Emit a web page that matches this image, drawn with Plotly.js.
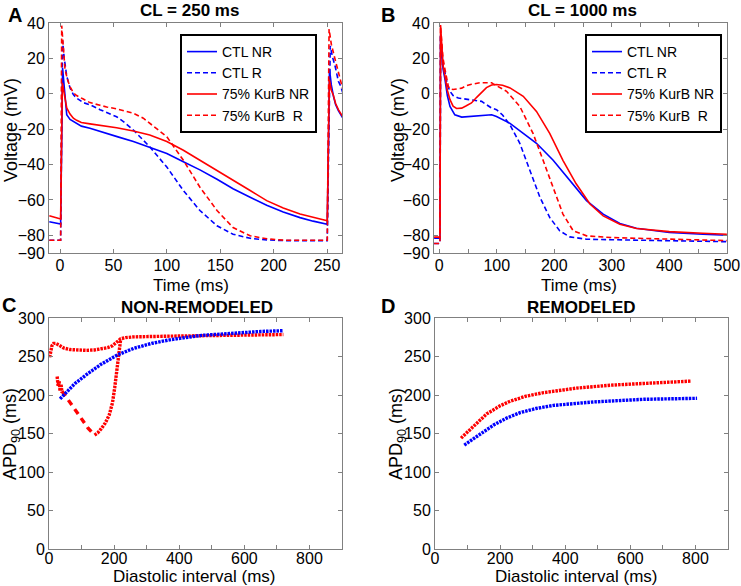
<!DOCTYPE html>
<html>
<head>
<meta charset="utf-8">
<script src="https://cdn.plot.ly/plotly-3.0.1.min.js"></script>
<style>
  html, body { margin: 0; padding: 0; background: #ffffff; }
  #chart { width: 741px; height: 586px; }
</style>
</head>
<body>
<div id="chart"></div>
<script>
// Panel A: CL = 250 ms action potentials
const aTimeCtlNR = [-10, 0, 0.6, 2.4, 4, 6.3, 9.4, 12.5, 15.6, 20, 28, 37.5, 43.7, 55, 68.7, 84, 100, 115, 131, 147, 162, 178, 193.5, 209, 224.7, 237, 249.5, 250.2, 252.3, 254, 256, 258, 260.6, 264.5];
const aVoltCtlNR = [-72.3, -73.6, -73.6, 14.7, 2, -11.9, -14.5, -15.7, -16.9, -18.3, -19.5, -21.4, -22.3, -24.5, -27, -30.3, -33.8, -38.3, -43, -48.3, -53.7, -58.5, -63, -66.8, -70, -72, -73.7, -73.7, 13.8, 5, -1.4, -6, -9.5, -13.5];

const aTimeCtlR = [-10, 0, 0.6, 2.4, 4, 6.3, 9.4, 12.5, 15.6, 21.8, 28, 37.5, 43.7, 53, 60, 68.7, 84, 100, 115.5, 131, 147, 162, 178, 193.5, 210, 249.5, 250.2, 253, 255, 257.5, 260.6, 262.8, 265];
const aVoltCtlR = [-82.8, -82.8, -82.8, 30, 20, 10, 3.3, -0.5, -2.5, -5, -6.2, -9, -10.5, -13, -16, -20.5, -30, -41.4, -54.7, -66, -74.6, -79.4, -81.7, -82.6, -83, -83, -83, 27, 21, 15.7, 7.1, 4.3, 0];

const aTimeKurNR = [-10, 0, 0.6, 2.2, 4, 6.3, 9.4, 12.5, 15.6, 20, 28, 37.5, 43.7, 53, 68.7, 84, 100, 115.5, 131, 147, 162, 178, 193.5, 209, 224.7, 237, 249.5, 250.2, 252.2, 254, 256, 258, 260.6, 264.5];
const aVoltKurNR = [-68.9, -70.8, -70.8, 6.2, 0, -8, -11.5, -13.8, -15, -16.2, -17, -17.8, -18.5, -19.2, -21, -23.3, -27, -31.9, -37.6, -43.3, -49, -54.7, -60.4, -64.6, -68, -70, -71.8, -71.8, 8, 2, -1, -5.5, -9, -12.8];

const aTimeKurR = [-10, 0, 0.6, 1.6, 3, 4.7, 7, 9.4, 12.5, 15.6, 21.8, 28, 37.5, 43.7, 53, 68.7, 78, 90.5, 100, 115.5, 131, 147, 162, 178, 193.5, 210, 249.5, 250.2, 251.9, 254, 257.5, 260.6, 262.8, 265];
const aVoltKurR = [-82.8, -82.8, -82.8, 38.5, 25, 13.8, 8, 4, 0.5, -1, -3, -5, -6.5, -7.5, -8.5, -11, -13.8, -19.5, -24.3, -37.6, -52.8, -66, -75.6, -80.3, -81.9, -82.8, -82.8, -82.8, 36.6, 28, 19.5, 11.9, 6.2, 2];

// Panel B: CL = 1000 ms action potentials
const bTimeCtlNR = [-9, 0.8, 1.2, 2.2, 4, 6.5, 9.9, 14, 18.6, 27, 39, 56, 76, 91, 99.5, 123, 146, 169, 198, 227, 256, 285, 314, 342.6, 400, 458, 500];
const bVoltCtlNR = [-81.6, -81.6, -81.6, 33, 22, 14, 8.1, -1, -7.1, -11.9, -13.2, -12.8, -12, -11.9, -12.8, -16.7, -22.4, -28, -37.6, -49, -60.4, -68, -73.3, -76, -78.4, -79.4, -80];

const bTimeCtlR = [-9, 0.8, 1.2, 2.2, 4, 6.5, 10, 14, 18.6, 24, 33, 50, 73.6, 91, 99.5, 110, 123, 140, 157, 175, 192, 209.5, 227, 256, 300, 400, 500];
const bVoltCtlR = [-84.6, -84.6, -84.6, 33, 24, 16, 11.9, 5, 1.4, -1, -2.4, -3.3, -4.3, -8.1, -9, -12, -17.6, -28, -43.3, -58.5, -69.9, -77.5, -80.9, -82.2, -82.5, -83, -83.6];

const bTimeKurNR = [-9, 0.8, 1.2, 2.2, 4, 6.5, 9.9, 14, 18.6, 24, 30, 39, 47, 56, 65, 73.6, 82, 91, 99.5, 110, 123, 146, 169, 192, 215, 238, 262, 285, 314, 343, 400, 458, 500];
const bVoltKurNR = [-81, -81, -81, 38.9, 26, 16, 10, 2, -3.3, -7, -8.3, -8.1, -6.8, -5.2, -2, 0.5, 3.5, 5, 5.2, 4.8, 3.3, -1.4, -10, -22.4, -37.6, -50.9, -62.3, -69, -73.7, -76.2, -77.9, -78.8, -79.4];

const bTimeKurR = [-9, 0.8, 1.2, 2.2, 4, 6.5, 9.9, 15.6, 18.5, 24, 30, 39, 47, 56, 70.6, 91, 94, 117, 140, 163, 180.5, 198, 215, 233, 256, 300, 400, 500];
const bVoltKurR = [-84.6, -84.6, -84.6, 38, 28, 20, 13.8, 4.3, 2.8, 2.4, 2.7, 3.2, 4.6, 5.4, 6.2, 6.2, 5.6, 1.4, -7.1, -22.4, -37.6, -52.8, -68, -77.5, -80.3, -81.3, -82.2, -83];

// Panel C: restitution, non-remodeled
const cDiCtl = [34, 50, 80, 120, 160, 210, 260, 315, 375, 470, 575, 650, 720];
const cApdCtl = [195, 202, 215, 228, 240, 252, 260.5, 267, 272, 277.5, 281, 282.5, 283.5];

const cDiKurUpper = [2, 5, 9, 14, 20, 30, 45, 65, 90, 115, 140, 160, 180, 195, 205, 212, 220, 235, 260, 300, 380, 470, 570, 650, 720];
const cApdKurUpper = [249, 258, 264, 267, 267, 265, 261, 259, 258, 258, 258.5, 259.5, 261.5, 264, 267, 270, 273, 274.5, 275.5, 276, 276.5, 277, 277.5, 278, 278.5];

const cDiKurAlt = [25, 28, 31, 34, 37, 40];
const cApdKurAlt = [224, 212, 218, 205, 214, 203];

const cDiKurDown = [40, 60, 80, 100, 120, 140];
const cApdKurDown = [205, 193, 181, 170, 157, 148];

const cDiKurUp = [140, 150, 160, 172, 185, 195, 202, 208, 213, 217, 220];
const cApdKurUp = [148, 151, 156, 163, 174, 190, 210, 230, 248, 263, 272];

// Panel D: restitution, remodeled
const dDiCtl = [90, 128, 180, 220, 261, 310, 364, 487, 641, 805];
const dApdCtl = [135, 146, 161, 170, 177, 182.5, 186.5, 191, 194.4, 195.7];

const dDiKur = [80, 118, 159, 200, 231, 280, 333, 436, 538, 641, 785];
const dApdKur = [144, 159, 175.5, 186, 192, 198.5, 203, 209, 212.7, 215, 218];

const colors = {
  ctl: '#0000ff',
  kur: '#ff0000',
  axis: '#808080'
};

const FONT = 'Liberation Sans, Arial, Helvetica, sans-serif';
const W = 741, H = 586;

function px(x) { return x / W; }
function py(y) { return 1 - y / H; }

function apTrace(x, y, name, color, dash, xa, ya, legend) {
  return {
    x: x, y: y, name: name, type: 'scatter', mode: 'lines',
    line: { color: color, width: 1.6, dash: dash },
    xaxis: xa, yaxis: ya, legend: legend, showlegend: true
  };
}

function dotTrace(x, y, color, xa, ya, dash) {
  return {
    x: x, y: y, type: 'scatter', mode: 'lines',
    line: { color: color, width: 3.4, dash: dash || '2.5px,1px' },
    xaxis: xa, yaxis: ya, showlegend: false, hoverinfo: 'x+y'
  };
}

const traces = [
  apTrace(aTimeCtlNR, aVoltCtlNR, 'CTL NR', colors.ctl, 'solid', 'x', 'y', 'legend'),
  apTrace(aTimeCtlR, aVoltCtlR, 'CTL R', colors.ctl, '5px,3px', 'x', 'y', 'legend'),
  apTrace(aTimeKurNR, aVoltKurNR, '75% KurB NR', colors.kur, 'solid', 'x', 'y', 'legend'),
  apTrace(aTimeKurR, aVoltKurR, '75% KurB\u00a0 R', colors.kur, '5px,3px', 'x', 'y', 'legend'),

  apTrace(bTimeCtlNR, bVoltCtlNR, 'CTL NR', colors.ctl, 'solid', 'x2', 'y2', 'legend2'),
  apTrace(bTimeCtlR, bVoltCtlR, 'CTL R', colors.ctl, '5px,3px', 'x2', 'y2', 'legend2'),
  apTrace(bTimeKurNR, bVoltKurNR, '75% KurB NR', colors.kur, 'solid', 'x2', 'y2', 'legend2'),
  apTrace(bTimeKurR, bVoltKurR, '75% KurB\u00a0 R', colors.kur, '5px,3px', 'x2', 'y2', 'legend2'),

  dotTrace(cDiKurUpper, cApdKurUpper, colors.kur, 'x3', 'y3'),
  dotTrace(cDiKurAlt, cApdKurAlt, colors.kur, 'x3', 'y3'),
  dotTrace(cDiKurDown, cApdKurDown, colors.kur, 'x3', 'y3', '6px,5px'),
  dotTrace(cDiKurUp, cApdKurUp, colors.kur, 'x3', 'y3'),
  dotTrace(cDiCtl, cApdCtl, colors.ctl, 'x3', 'y3'),

  dotTrace(dDiKur, dApdKur, colors.kur, 'x4', 'y4'),
  dotTrace(dDiCtl, dApdCtl, colors.ctl, 'x4', 'y4')
];

const baseAxis = {
  showline: true, mirror: 'ticks', linecolor: colors.axis, linewidth: 1,
  ticks: 'inside', ticklen: 4, tickcolor: colors.axis, tickwidth: 1,
  showgrid: false, zeroline: false, ticklabeloverflow: 'allow',
  tickfont: { family: FONT, size: 16, color: '#000000' }
};

const voltTicks = [40, 20, 0, -20, -40, -60, -80, -90];
const minorDI = { dtick: 100, ticks: 'inside', ticklen: 4, tickcolor: colors.axis };

const layout = {
  width: W, height: H,
  margin: { l: 0, r: 0, t: 0, b: 0 },
  paper_bgcolor: '#ffffff', plot_bgcolor: '#ffffff',
  font: { family: FONT, color: '#000000' },

  xaxis: { ...baseAxis, domain: [px(49), px(342)], range: [-10.3, 264], tickvals: [0, 50, 100, 150, 200, 250],
    ticklabelstandoff: -2, anchor: 'y' },
  yaxis: { ...baseAxis, domain: [py(253), py(23)], range: [-90, 40], tickvals: voltTicks, anchor: 'x' },

  xaxis2: { ...baseAxis, domain: [px(434), px(727)], range: [-9.2, 500.3], tickvals: [0, 100, 200, 300, 400, 500],
    minor: { tickvals: [50, 150, 250, 350, 450], ticks: 'inside', ticklen: 4, tickcolor: colors.axis },
    ticklabelstandoff: -2, anchor: 'y2' },
  yaxis2: { ...baseAxis, domain: [py(253), py(23)], range: [-90, 40], tickvals: voltTicks, anchor: 'x2' },

  xaxis3: { ...baseAxis, domain: [px(49), px(342)], range: [0, 900], dtick: 200, tick0: 0,
    minor: minorDI, ticklabelstandoff: -5, anchor: 'y3' },
  yaxis3: { ...baseAxis, domain: [py(549), py(318)], range: [0, 300], dtick: 50, anchor: 'x3' },

  xaxis4: { ...baseAxis, domain: [px(435), px(728)], range: [0, 900], dtick: 200, tick0: 0,
    minor: minorDI, ticklabelstandoff: -5, anchor: 'y4' },
  yaxis4: { ...baseAxis, domain: [py(549), py(318)], range: [0, 300], dtick: 50, anchor: 'x4' },

  legend: {
    x: px(180), y: py(34), xanchor: 'left', yanchor: 'top',
    bgcolor: '#ffffff', bordercolor: '#000000', borderwidth: 2,
    font: { family: FONT, size: 14, color: '#000000' }, itemwidth: 30, tracegroupgap: 0
  },
  legend2: {
    x: px(585), y: py(34), xanchor: 'left', yanchor: 'top',
    bgcolor: '#ffffff', bordercolor: '#000000', borderwidth: 2,
    font: { family: FONT, size: 14, color: '#000000' }, itemwidth: 30, tracegroupgap: 0
  },

  annotations: []
};

function label(text, x, y, size, bold, angle) {
  layout.annotations.push({
    text: bold ? '<b>' + text + '</b>' : text,
    xref: 'paper', yref: 'paper', x: px(x), y: py(y),
    xanchor: 'center', yanchor: 'middle', showarrow: false,
    textangle: angle || 0,
    font: { family: FONT, size: size, color: '#000000' }
  });
}

// panel titles and letters
label('CL = 250 ms', 190, 10, 17, true);
label('CL = 1000 ms', 582, 10, 17, true);
label('NON-REMODELED', 197, 307, 17, true);
label('REMODELED', 581, 307, 17, true);
label('A', 15, 15, 20, true);
label('B', 388, 15, 20, true);
label('C', 9, 305, 20, true);
label('D', 388, 306, 20, true);

// axis titles
label('Voltage (mV)', 11, 130, 18, false, -90);
label('Voltage (mV)', 398, 130, 18, false, -90);
label('Time (ms)', 191, 285, 17, false);
label('Time (ms)', 579, 285, 17, false);
label('APD<sub>90</sub> (ms)', 11, 434, 18, false, -90);
label('APD<sub>90</sub> (ms)', 397, 434, 18, false, -90);
label('Diastolic interval (ms)', 194, 576, 17, false);
label('Diastolic interval (ms)', 576, 576, 17, false);

Plotly.newPlot('chart', traces, layout, { displayModeBar: false, staticPlot: true });
</script>
</body>
</html>
